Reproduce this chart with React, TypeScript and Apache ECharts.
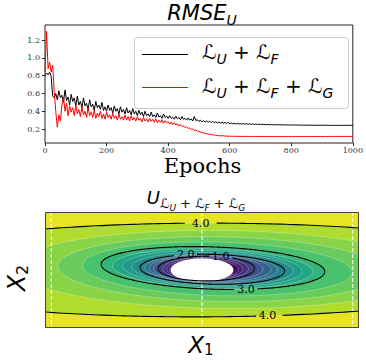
import React, { useEffect, useRef } from 'react';
import * as echarts from 'echarts';

// ---------------- Top panel data (RMSE_U vs epochs) ----------------
const EPOCH_STEP = 5;
const lossUF = [
  0.80, 0.83, 0.81, 0.84, 0.79, 0.57, 0.55, 0.60, 0.53, 0.63, 0.55, 0.58, 0.50, 0.64, 0.52, 0.56, 0.47, 0.59, 0.51, 0.55, 0.46,
  0.57, 0.47, 0.51, 0.44, 0.55, 0.46, 0.49, 0.42, 0.53, 0.45, 0.48, 0.41, 0.51, 0.44, 0.47, 0.42, 0.50, 0.41, 0.45, 0.40,
  0.47, 0.41, 0.44, 0.38, 0.46, 0.40, 0.43, 0.37, 0.45, 0.39, 0.42, 0.37, 0.44, 0.38, 0.41, 0.36, 0.43, 0.37, 0.40, 0.35,
  0.41, 0.36, 0.39, 0.34, 0.40, 0.35, 0.37, 0.34, 0.39, 0.34, 0.36, 0.33, 0.38, 0.335, 0.35, 0.32, 0.37, 0.33, 0.345, 0.32,
  0.35, 0.32, 0.335, 0.31, 0.345, 0.315, 0.33, 0.305, 0.34, 0.31, 0.32, 0.30, 0.325, 0.30, 0.315, 0.29, 0.34, 0.295, 0.305, 0.285,
  0.30, 0.28, 0.295, 0.278, 0.292, 0.275, 0.29, 0.272, 0.286, 0.27, 0.283, 0.268, 0.28, 0.266, 0.278, 0.264, 0.276, 0.262, 0.274, 0.26,
  0.268, 0.258, 0.266, 0.257, 0.264, 0.256, 0.262, 0.255, 0.261, 0.254, 0.26, 0.253, 0.259, 0.252, 0.258, 0.251, 0.257, 0.25, 0.256, 0.25,
  0.255, 0.249, 0.254, 0.248, 0.253, 0.247, 0.252, 0.247, 0.251, 0.246, 0.25, 0.246, 0.249, 0.245, 0.249, 0.245, 0.248, 0.244, 0.248, 0.244,
  0.247, 0.243, 0.247, 0.243, 0.246, 0.242, 0.246, 0.242, 0.245, 0.242, 0.245, 0.241, 0.245, 0.241, 0.244, 0.241, 0.244, 0.241, 0.244, 0.241,
  0.244, 0.24, 0.244, 0.24, 0.243, 0.24, 0.243, 0.24, 0.243, 0.24, 0.243, 0.24, 0.243, 0.24, 0.243, 0.24, 0.243, 0.24, 0.243, 0.241,
];
const lossUFG = [
  0.84, 1.30, 0.88, 0.95, 0.84, 0.92, 0.62, 0.40, 0.22, 0.36, 0.29, 0.47, 0.56, 0.40, 0.49, 0.35, 0.46, 0.39, 0.44, 0.35, 0.47,
  0.37, 0.42, 0.34, 0.45, 0.36, 0.40, 0.33, 0.44, 0.35, 0.39, 0.33, 0.41, 0.32, 0.38, 0.34, 0.40, 0.32, 0.37, 0.31, 0.39,
  0.33, 0.36, 0.31, 0.38, 0.32, 0.35, 0.30, 0.37, 0.31, 0.34, 0.30, 0.36, 0.30, 0.34, 0.29, 0.35, 0.30, 0.33, 0.29, 0.34,
  0.30, 0.32, 0.28, 0.33, 0.29, 0.315, 0.28, 0.32, 0.285, 0.31, 0.275, 0.315, 0.27, 0.30, 0.275, 0.305, 0.265, 0.295, 0.27, 0.285,
  0.255, 0.28, 0.25, 0.27, 0.245, 0.26, 0.235, 0.25, 0.228, 0.235, 0.218, 0.225, 0.208, 0.212, 0.198, 0.2, 0.186, 0.188, 0.175, 0.174,
  0.165, 0.163, 0.155, 0.152, 0.146, 0.145, 0.139, 0.138, 0.133, 0.133, 0.129, 0.128, 0.125, 0.125, 0.122, 0.126, 0.12, 0.121, 0.119, 0.12,
  0.118, 0.12, 0.117, 0.119, 0.117, 0.119, 0.116, 0.118, 0.116, 0.118, 0.116, 0.118, 0.115, 0.117, 0.115, 0.117, 0.115, 0.117, 0.115, 0.117,
  0.115, 0.117, 0.115, 0.116, 0.114, 0.116, 0.114, 0.116, 0.114, 0.116, 0.114, 0.116, 0.114, 0.116, 0.114, 0.116, 0.114, 0.116, 0.114, 0.116,
  0.115, 0.117, 0.115, 0.116, 0.115, 0.117, 0.115, 0.116, 0.115, 0.117, 0.115, 0.116, 0.115, 0.117, 0.115, 0.116, 0.115, 0.117, 0.115, 0.116,
  0.115, 0.118, 0.115, 0.117, 0.115, 0.118, 0.115, 0.117, 0.115, 0.118, 0.115, 0.117, 0.116, 0.118, 0.116, 0.117, 0.116, 0.118, 0.116, 0.117,
];
const rmseTicks = [0.2, 0.4, 0.6, 0.8, 1.0, 1.2];
const RMSE_MIN = 0.043;
const RMSE_MAX = 1.37;
const EPOCH_MAX = 1000;
const EPOCH_INTERVAL = 200;

// ---------------- Bottom panel data (contour field) ----------------
const contourLevels = [0.25, 0.5, 0.75, 1.0, 1.25, 1.5, 1.75, 2.0, 2.25, 2.5, 2.75, 3.0, 3.25, 3.5, 3.75, 4.0];
const contourCx = [0.03, 0.045, 0.06, 0.07, 0.10, 0.13, 0.145, 0.165, 0.17, 0.165, 0.17, 0.175, 0.245, 0.3, 0.3, 0.0];
const contourCy = [0.03, 0.04, 0.05, 0.065, 0.06, 0.057, 0.05, 0.03, 0.05, 0.06, 0.06, 0.085, 0.05, 0.035, 0.025, 0.0];
const contourA = [0.55, 0.605, 0.68, 0.77, 0.87, 0.97, 1.055, 1.155, 1.29, 1.435, 1.6, 1.79, 2.155, 2.6, 3.3, 5.4];
const contourB = [0.42, 0.46, 0.5, 0.535, 0.56, 0.587, 0.617, 0.64, 0.7, 0.77, 0.84, 0.906, 1.15, 1.39, 1.68, 2.02];
const contourTilt = [0, 0, 0, 0, -0.02, -0.045, -0.07, -0.095, -0.1, -0.11, -0.115, -0.12, -0.1, -0.07, -0.04, 0.01];
const topBandValue = 4.25;
const labeledLevels = [1.0, 2.0, 3.0, 4.0];
const labelAngles = [[1.27], [2.0], [-1.21], [1.571, -1.38]];
const obstacleCenter = [0, 0];
const obstacleRadius = 0.5;
const guideLinesX = [-2.4, 0, 2.4];
const fieldTicks = [-2, -1, 0, 1, 2];
const FIELD_MIN = -2.5;
const FIELD_MAX = 2.5;

// ---------------- Styles ----------------
const SANS = 'DejaVu Sans';
const SERIF = 'DejaVu Serif';
const COLOR_UF = '#000000';
const COLOR_UFG = '#ff0000';
const VIRIDIS = ['#440154', '#482475', '#414487', '#355f8d', '#2a788e', '#21918c', '#22a884', '#44bf70', '#7ad151', '#bddf26', '#fde725'];

function tok(fontSize: number, drop: number, italic: boolean, D = 8, family = SANS) {
  const h = 2 * (D + 0.346 * fontSize - drop);
  return {
    fontSize, fontFamily: family, fontStyle: italic ? 'italic' : 'normal', fill: '#000',
    height: h, lineHeight: h, verticalAlign: 'bottom',
  };
}

function ellipsePoint(cx: number, cy: number, a: number, b: number, t: number, th: number) {
  const ex = a * Math.cos(th);
  const ey = b * Math.sin(th);
  return [cx + ex * Math.cos(t) - ey * Math.sin(t), cy + ex * Math.sin(t) + ey * Math.cos(t)];
}

function mathText(x: number, baseline: number, text: string, rich: any, align = 'center', extra: any = {}, D = 8) {
  return {
    type: 'text', x, y: baseline + D, z: 20, ...extra,
    style: { text, rich, align, textAlign: align, verticalAlign: 'bottom', textVerticalAlign: 'bottom' },
  };
}

export default function App() {
  const ref = useRef<HTMLDivElement>(null);
  useEffect(() => {
    if (!ref.current) return;
    const chart = echarts.init(ref.current, undefined, { renderer: 'svg' });

    const fillData: number[][] = [[0, 0, 0, 0, 0, topBandValue, 0]];
    for (let k = contourLevels.length - 1; k >= 0; k--) {
      const band = k > 0 ? (contourLevels[k - 1] + contourLevels[k]) / 2 : contourLevels[0] / 2;
      fillData.push([contourCx[k], contourCy[k], contourA[k], contourB[k], contourTilt[k], band, 1]);
    }
    const lineData = labeledLevels.map((L, j) => {
      const k = contourLevels.indexOf(L);
      return [contourCx[k], contourCy[k], contourA[k], contourB[k], contourTilt[k], L, j];
    });

    const clipOf = (cs: any) => ({ type: 'rect', shape: { x: cs.x, y: cs.y, width: cs.width, height: cs.height } });

    const legendRich = { L: tok(20, 0, false), p: tok(20, 0, false), s: tok(14, 5, true) };

    const option: any = {
      animation: false,
      grid: [
        { left: 45, top: 25, width: 314, height: 118, show: true, borderColor: '#222', borderWidth: 1, backgroundColor: 'transparent' },
        { left: 45, top: 212, width: 314, height: 116 },
      ],
      xAxis: [
        {
          type: 'value', gridIndex: 0, min: 0, max: EPOCH_MAX, interval: EPOCH_INTERVAL,
          axisLine: { show: false }, splitLine: { show: false },
          axisTick: { show: true, length: 3, lineStyle: { color: '#222' } },
          axisLabel: { fontFamily: SERIF, fontSize: 8, color: '#333', margin: 3, formatter: (v: number) => String(v) },
        },
        {
          type: 'value', gridIndex: 1, min: FIELD_MIN, max: FIELD_MAX,
          axisLine: { show: false }, splitLine: { show: false },
          axisTick: { show: true, length: 4, customValues: fieldTicks, lineStyle: { color: '#555' } },
          axisLabel: { show: false, customValues: fieldTicks },
        },
      ],
      yAxis: [
        {
          type: 'value', gridIndex: 0, min: RMSE_MIN, max: RMSE_MAX,
          axisLine: { show: false }, splitLine: { show: false },
          axisTick: { show: true, length: 3, customValues: rmseTicks, lineStyle: { color: '#222' } },
          axisLabel: { fontFamily: SERIF, fontSize: 8, color: '#333', margin: 5, customValues: rmseTicks, formatter: (v: number) => v.toFixed(1) },
        },
        {
          type: 'value', gridIndex: 1, min: FIELD_MIN, max: FIELD_MAX,
          axisLine: { show: false }, splitLine: { show: false },
          axisTick: { show: true, length: 4, customValues: fieldTicks, lineStyle: { color: '#555' } },
          axisLabel: { show: false, customValues: fieldTicks },
        },
      ],
      visualMap: [{
        type: 'continuous', show: false, seriesIndex: 2, dimension: 5, min: 0, max: 4.4,
        inRange: { color: VIRIDIS },
      }],
      series: [
        {
          type: 'line', name: 'LU+LF', xAxisIndex: 0, yAxisIndex: 0, symbol: 'none', z: 2,
          lineStyle: { color: COLOR_UF, width: 1 }, itemStyle: { color: COLOR_UF },
          data: lossUF.map((v, i) => [i * EPOCH_STEP, v]),
        },
        {
          type: 'line', name: 'LU+LF+LG', xAxisIndex: 0, yAxisIndex: 0, symbol: 'none', z: 3,
          lineStyle: { color: COLOR_UFG, width: 1 }, itemStyle: { color: COLOR_UFG },
          data: lossUFG.map((v, i) => [i * EPOCH_STEP, v]),
        },
        {
          type: 'custom', xAxisIndex: 1, yAxisIndex: 1, clip: true, z: 2,
          data: fillData,
          renderItem: (params: any, api: any) => {
            const cs = params.coordSys;
            const color = api.visual('color');
            if (api.value(6) === 0) {
              return { type: 'rect', shape: { x: cs.x, y: cs.y, width: cs.width, height: cs.height }, style: { fill: color } };
            }
            const cx = api.value(0), cy = api.value(1), a = api.value(2), b = api.value(3), t = api.value(4);
            const pts: number[][] = [];
            for (let i = 0; i < 180; i++) {
              pts.push(api.coord(ellipsePoint(cx, cy, a, b, t, (2 * Math.PI * i) / 180)));
            }
            return {
              type: 'group', clipPath: clipOf(cs),
              children: [{ type: 'polygon', shape: { points: pts }, style: { fill: color, stroke: 'rgba(255,255,255,0.45)', lineWidth: 0.6 } }],
            };
          },
        },
        {
          type: 'custom', xAxisIndex: 1, yAxisIndex: 1, clip: true, z: 3,
          data: [[obstacleCenter[0], obstacleCenter[1], obstacleRadius]],
          renderItem: (params: any, api: any) => {
            const cx = api.value(0), cy = api.value(1), r = api.value(2);
            const pts: number[][] = [];
            for (let i = 0; i < 120; i++) {
              const th = (2 * Math.PI * i) / 120;
              pts.push(api.coord([cx + r * Math.cos(th), cy + r * Math.sin(th)]));
            }
            return { type: 'polygon', shape: { points: pts }, style: { fill: '#ffffff' } };
          },
        },
        {
          type: 'custom', xAxisIndex: 1, yAxisIndex: 1, clip: true, z: 4,
          data: guideLinesX.map((x) => [x, 0]),
          renderItem: (params: any, api: any) => {
            const cs = params.coordSys;
            const px = api.coord([api.value(0), 0])[0];
            return {
              type: 'line', shape: { x1: px, y1: cs.y, x2: px, y2: cs.y + cs.height },
              style: { stroke: '#ffffff', lineWidth: 1, lineDash: [4, 2] },
            };
          },
        },
        {
          type: 'custom', xAxisIndex: 1, yAxisIndex: 1, clip: true, z: 5,
          data: lineData,
          renderItem: (params: any, api: any) => {
            const cs = params.coordSys;
            const cx = api.value(0), cy = api.value(1), a = api.value(2), b = api.value(3), t = api.value(4);
            const level = api.value(5), j = api.value(6);
            const labels = labelAngles[j].map((th) => api.coord(ellipsePoint(cx, cy, a, b, t, th)));
            const segs: number[][][] = [];
            let cur: number[][] = [];
            const N = 400;
            for (let i = 0; i <= N; i++) {
              const p = api.coord(ellipsePoint(cx, cy, a, b, t, (2 * Math.PI * i) / N));
              const near = labels.some((l: number[]) => Math.abs(p[0] - l[0]) < 11 && Math.abs(p[1] - l[1]) < 7);
              if (near) {
                if (cur.length > 1) segs.push(cur);
                cur = [];
              } else cur.push(p);
            }
            if (cur.length > 1) segs.push(cur);
            const children: any[] = segs.map((s) => ({
              type: 'polyline', shape: { points: s }, style: { stroke: '#000', lineWidth: 1.1, fill: null },
            }));
            labels.forEach((l: number[]) => {
              children.push({
                type: 'text', x: l[0], y: l[1],
                style: {
                  text: level.toFixed(1), fontSize: 11, fontFamily: SERIF, fill: '#000',
                  align: 'center', textAlign: 'center', verticalAlign: 'middle', textVerticalAlign: 'middle',
                },
              });
            });
            return { type: 'group', clipPath: clipOf(cs), children };
          },
        },
      ],
      graphic: {
        elements: [
          mathText(202, 20, '{b|RMSE}{s|U}', { b: tok(21, 0, true), s: tok(14, 5, true) }),
          {
            type: 'text', x: 202.5, y: 166.4, z: 20,
            style: { text: 'Epochs', fontSize: 21, fontFamily: SERIF, fill: '#000', align: 'center', textAlign: 'center', verticalAlign: 'middle', textVerticalAlign: 'middle' },
          },
          {
            type: 'rect', z: 10, shape: { x: 134.5, y: 37.5, width: 214, height: 71, r: 3 },
            style: { fill: 'rgba(255,255,255,0.8)', stroke: '#cccccc', lineWidth: 1 },
          },
          { type: 'line', z: 11, shape: { x1: 142, y1: 54.5, x2: 188, y2: 54.5 }, style: { stroke: COLOR_UF, lineWidth: 1 } },
          { type: 'line', z: 11, shape: { x1: 142, y1: 87.5, x2: 188, y2: 87.5 }, style: { stroke: COLOR_UFG, lineWidth: 1 } },
          mathText(202, 59, '{L|ℒ}{s|U}{p| + }{L|ℒ}{s|F}', legendRich, 'left'),
          mathText(202, 93, '{L|ℒ}{s|U}{p| + }{L|ℒ}{s|F}{p| + }{L|ℒ}{s|G}', legendRich, 'left'),
          mathText(196, 203.5, '{U|U}{L|ℒ}{ss|U}{p| + }{L|ℒ}{ss|F}{p| + }{L|ℒ}{ss|G}', {
            U: tok(18, 0, true), L: tok(13, 4, false), p: tok(13, 4, false), ss: tok(9, 8, true),
          }),
          mathText(201, 352.5, '{X|X}{n|1}', { X: tok(23, 0, true, 3), n: tok(15, 2.5, false, 3) }, 'center', {}, 3),
          mathText(33, 270, '{X|X}{n|2}', { X: tok(24, 0, true), n: tok(16, 3, false) }, 'center', { rotation: Math.PI / 2 }),
          {
            type: 'rect', z: 10, shape: { x: 45.5, y: 212.5, width: 313, height: 115 },
            style: { fill: 'none', stroke: '#444', lineWidth: 1 },
          },
        ],
      },
    };
    chart.setOption(option);
    return () => chart.dispose();
  }, []);
  return <div ref={ref} style={{ position: 'absolute', left: 0, top: 0, width: 366, height: 360 }} />;
}
